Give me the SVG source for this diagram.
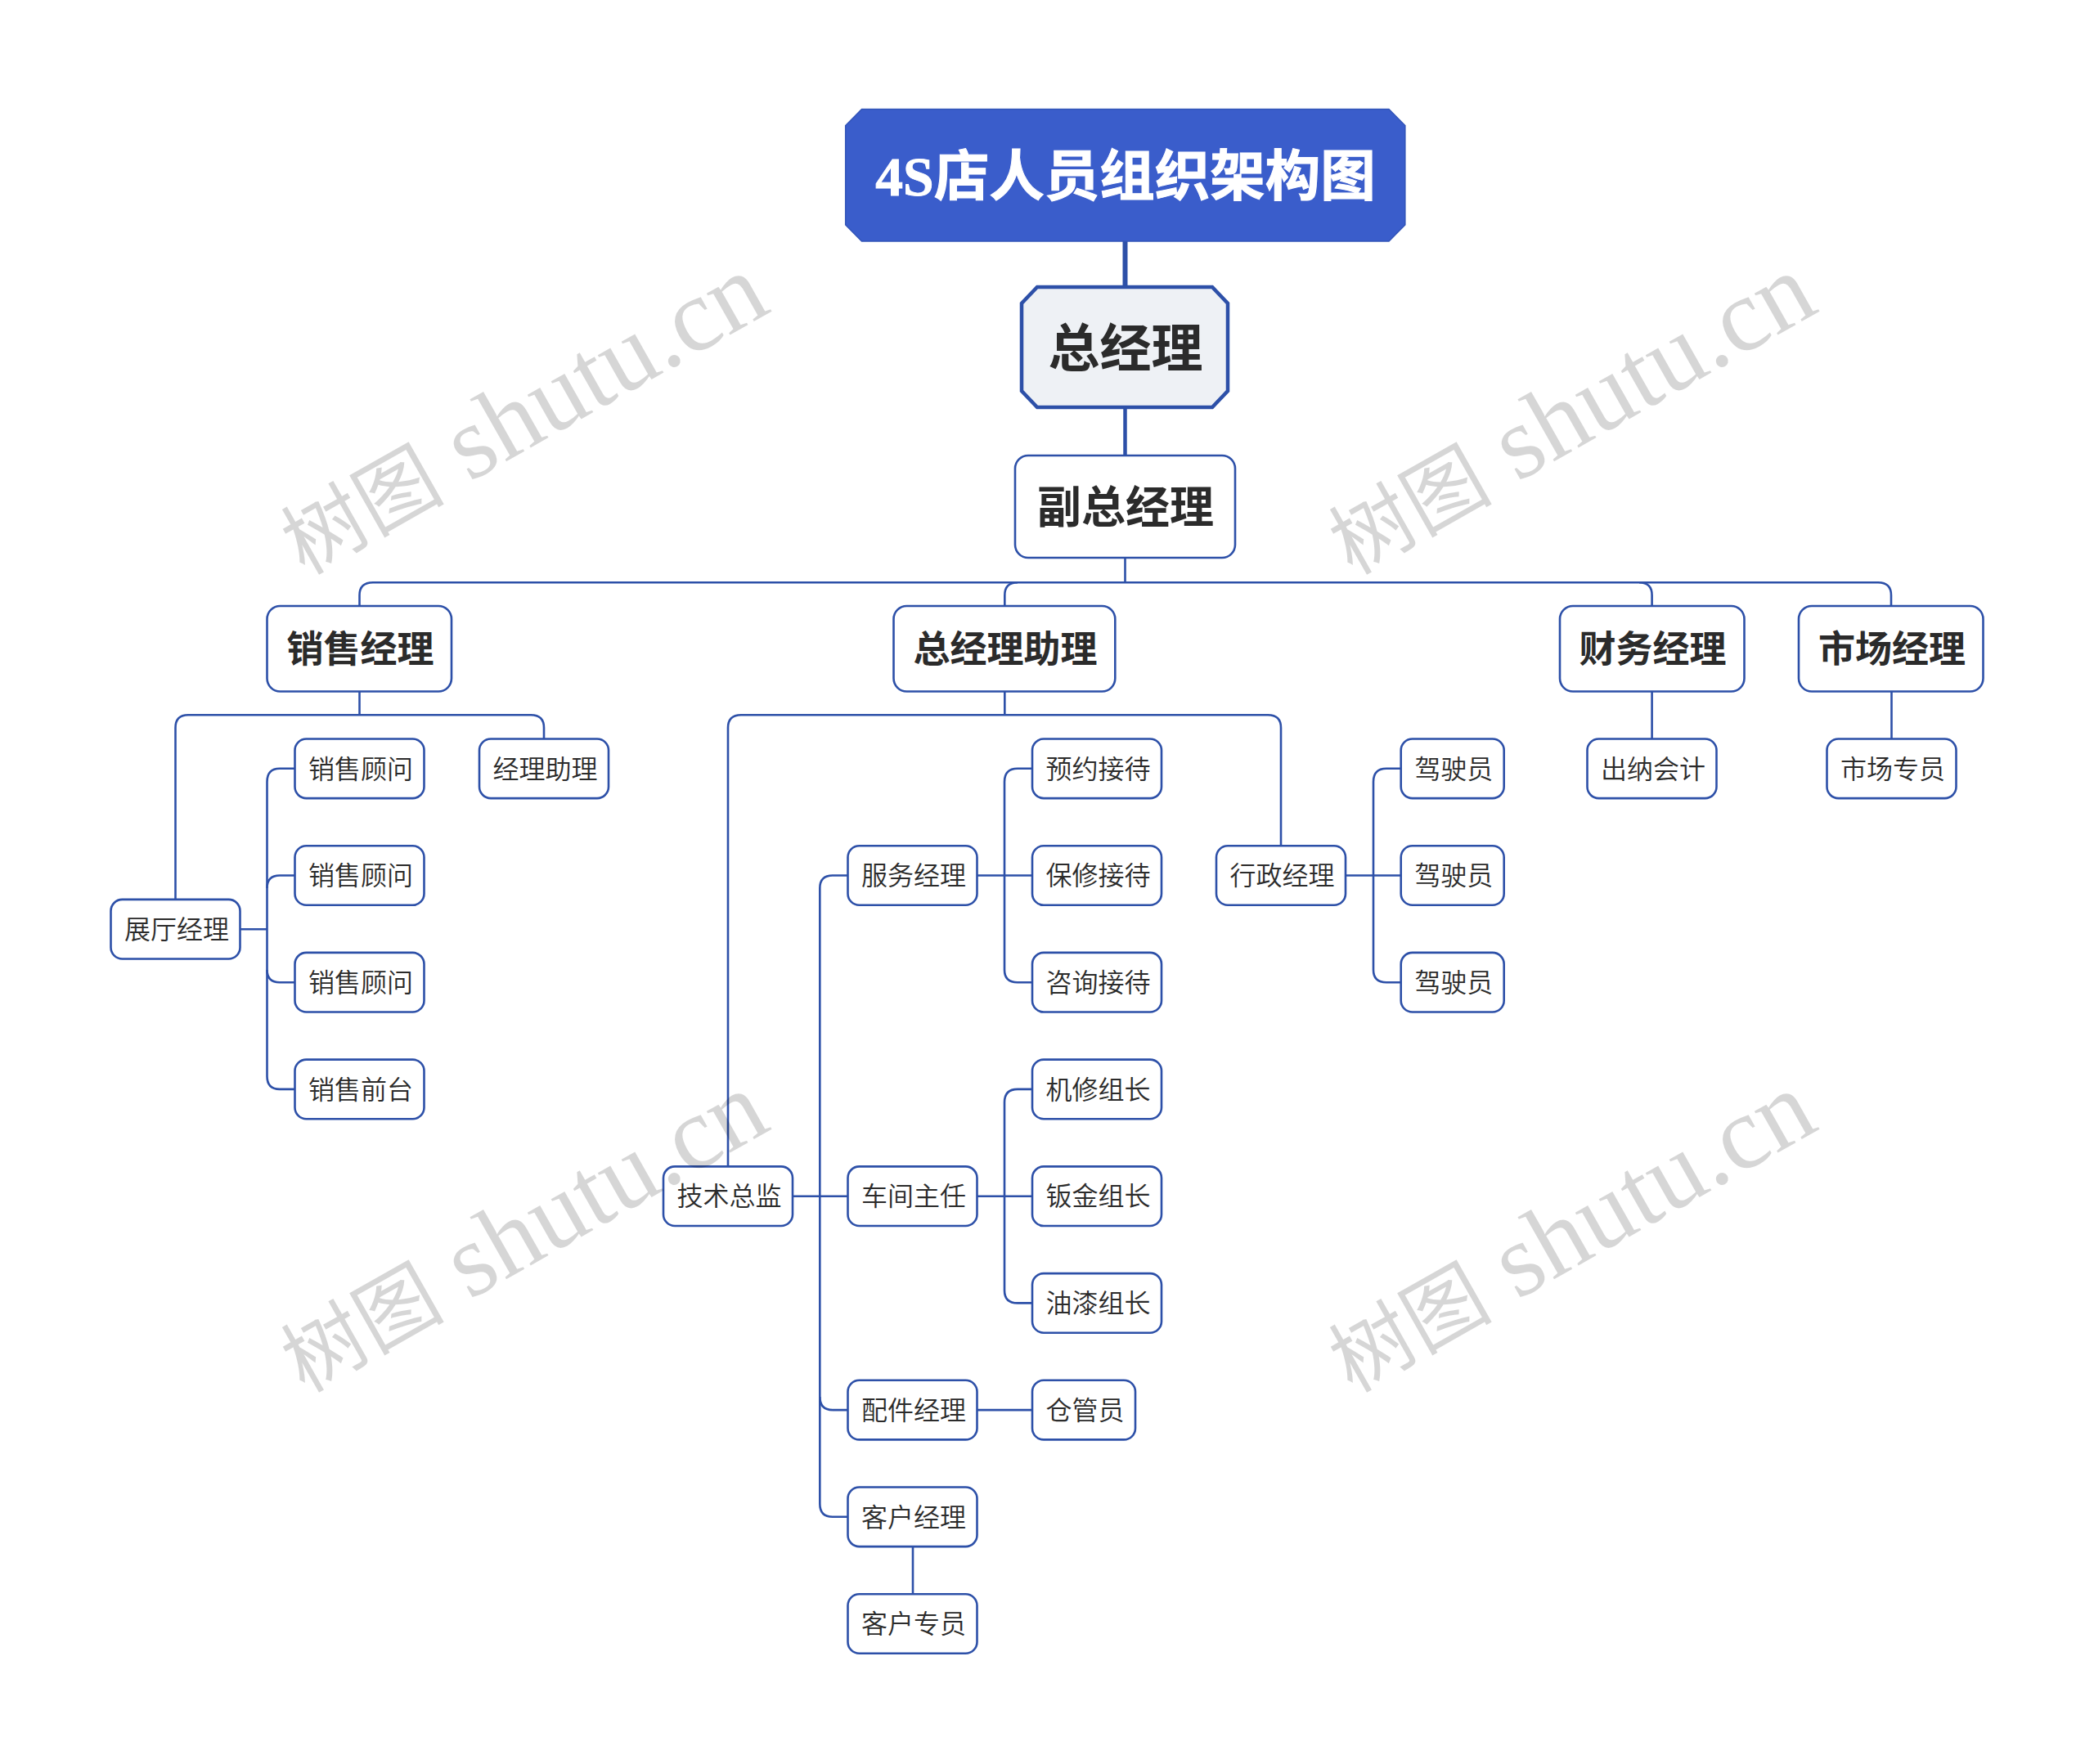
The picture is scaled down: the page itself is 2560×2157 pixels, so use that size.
<svg xmlns="http://www.w3.org/2000/svg" width="2560" height="2157" viewBox="0 0 2560 2157">
<style>
text{text-anchor:middle;font-family:"Noto Sans CJK SC","Noto Sans",sans-serif;fill:#2b2b2b}
.n rect{fill:#fff;stroke:#2d50a8;stroke-width:2.6}
.t{font-size:32px;font-weight:350;transform:translateX(1.5px)}
.b{font-size:45px;font-weight:700;transform:translateX(1px)}
.c path{fill:none;stroke:#2d50a8;stroke-width:2.6}
.wm{font-family:"Liberation Serif","Noto Sans CJK SC",serif;font-size:127px;fill:#000;fill-opacity:.16;font-weight:400;text-anchor:start}
.wm tspan{font-size:100px}
</style>
<rect width="2560" height="2157" fill="#fff"/>
<g id="connectors" class="c">
<path style="stroke-width:6" d="M1375.5 295V350"/>
<path style="stroke-width:4.5" d="M1375.5 498V557"/>
<path d="M1375.5 682V712.3"/>
<path d="M439.5 741V728Q439.5 712.3 456 712.3H2296Q2312 712.3 2312 728V741"/>
<path d="M1228.3 741V728Q1228.3 712.3 1244 712.3"/>
<path d="M2004 712.3Q2019.6 712.3 2019.6 728V741"/>
<path d="M439.5 846V874.3"/>
<path d="M214.5 1100V890Q214.5 874.3 230 874.3H649Q665 874.3 665 890V903.5"/>
<path d="M1228.3 845V874.3"/>
<path d="M890 1426.4V890Q890 874.3 906 874.3H1550Q1566 874.3 1566 890V1034"/>
<path d="M2019.6 846V903.5"/>
<path d="M2312.5 846V903.5"/>
<path d="M293.6 1136.2H326.5"/>
<path d="M360.5 939.8H342Q326.5 939.8 326.5 956V1316Q326.5 1331.9 342 1331.9H360.5"/>
<path d="M360.5 1070.5H342Q326.5 1070.5 326.5 1086"/>
<path d="M360.5 1201.2H342Q326.5 1201.2 326.5 1186"/>
<path d="M969 1462.7H1036.5"/>
<path d="M1036.5 1070.5H1018Q1002.3 1070.5 1002.3 1086V1839Q1002.3 1854.8 1018 1854.8H1036.5"/>
<path d="M1036.5 1724.1H1018Q1002.3 1724.1 1002.3 1708"/>
<path d="M1194.5 1070.5H1262"/>
<path d="M1262 939.8H1244Q1228 939.8 1228 956V1186Q1228 1201.2 1244 1201.2H1262"/>
<path d="M1194.5 1462.7H1262"/>
<path d="M1262 1331.9H1244Q1228 1331.9 1228 1348V1578Q1228 1593.4 1244 1593.4H1262"/>
<path d="M1194.5 1724.1H1262"/>
<path d="M1116 1891V1949"/>
<path d="M1645 1070.5H1712.7"/>
<path d="M1712.7 939.8H1695Q1679 939.8 1679 956V1186Q1679 1201.2 1695 1201.2H1712.7"/>
</g>
<g id="node-title"><path d="M1053.5 133.5H1698L1717.8 153.500V275L1698 295H1053.5L1033.7 275V153.5Z" fill="#3a5dcb" stroke="#3254b8" stroke-width="1.500"/><text x="1376" y="239" style="font-family:'Liberation Serif','Noto Sans CJK SC',serif;font-size:67.500px;font-weight:700;fill:#fff;stroke:#fff;stroke-width:1">4S店人员组织架构图</text></g>
<g id="node-gm"><path d="M1268 351H1482L1501 371V478L1482 498H1268L1249 478V371Z" fill="#eef1f5" stroke="#2d50a8" stroke-width="4.500"/><text x="1376" y="448" style="font-size:63px;font-weight:700">总经理</text></g>
<g id="node-vgm" class="n"><rect x="1241" y="557" width="269" height="125" rx="16"/><text x="1376" y="640" style="font-size:54px;font-weight:700">副总经理</text></g>
<g id="node-sales" class="n"><rect x="326.500" y="741" width="225.500" height="104.500" rx="16"/><text class="b" x="439.500" y="810">销售经理</text></g>
<g id="node-assistant" class="n"><rect x="1092.500" y="741" width="270.800" height="104.500" rx="16"/><text class="b" x="1228" y="810">总经理助理</text></g>
<g id="node-finance" class="n"><rect x="1907" y="741" width="225.500" height="104.500" rx="16"/><text class="b" x="2019.600" y="810">财务经理</text></g>
<g id="node-market" class="n"><rect x="2199" y="741" width="225.500" height="104.500" rx="16"/><text class="b" x="2312" y="810">市场经理</text></g>
<g id="node-a1" class="n"><rect x="360.500" y="903.500" width="158" height="72.600" rx="14"/><text class="t" x="439.500" y="951.500">销售顾问</text></g>
<g id="node-a2" class="n"><rect x="360.500" y="1034.200" width="158" height="72.600" rx="14"/><text class="t" x="439.500" y="1082.200">销售顾问</text></g>
<g id="node-a3" class="n"><rect x="360.500" y="1164.900" width="158" height="72.600" rx="14"/><text class="t" x="439.500" y="1212.900">销售顾问</text></g>
<g id="node-a4" class="n"><rect x="360.500" y="1295.600" width="158" height="72.600" rx="14"/><text class="t" x="439.500" y="1343.600">销售前台</text></g>
<g id="node-a5" class="n"><rect x="586" y="903.500" width="158" height="72.600" rx="14"/><text class="t" x="665" y="951.500">经理助理</text></g>
<g id="node-a6" class="n"><rect x="135.500" y="1099.900" width="158" height="72.600" rx="14"/><text class="t" x="214.500" y="1147.900">展厅经理</text></g>
<g id="node-b1" class="n"><rect x="811" y="1426.400" width="158" height="72.600" rx="14"/><text class="t" x="890" y="1474.400">技术总监</text></g>
<g id="node-b2" class="n"><rect x="1036.500" y="1034.200" width="158" height="72.600" rx="14"/><text class="t" x="1115.500" y="1082.200">服务经理</text></g>
<g id="node-b3" class="n"><rect x="1036.500" y="1426.400" width="158" height="72.600" rx="14"/><text class="t" x="1115.500" y="1474.400">车间主任</text></g>
<g id="node-b4" class="n"><rect x="1036.500" y="1687.800" width="158" height="72.600" rx="14"/><text class="t" x="1115.500" y="1735.800">配件经理</text></g>
<g id="node-b5" class="n"><rect x="1036.500" y="1818.500" width="158" height="72.600" rx="14"/><text class="t" x="1115.500" y="1866.500">客户经理</text></g>
<g id="node-b6" class="n"><rect x="1036.500" y="1949.200" width="158" height="72.600" rx="14"/><text class="t" x="1115.500" y="1997.200">客户专员</text></g>
<g id="node-c1" class="n"><rect x="1262" y="903.500" width="158" height="72.600" rx="14"/><text class="t" x="1341" y="951.500">预约接待</text></g>
<g id="node-c2" class="n"><rect x="1262" y="1034.200" width="158" height="72.600" rx="14"/><text class="t" x="1341" y="1082.200">保修接待</text></g>
<g id="node-c3" class="n"><rect x="1262" y="1164.900" width="158" height="72.600" rx="14"/><text class="t" x="1341" y="1212.900">咨询接待</text></g>
<g id="node-c4" class="n"><rect x="1262" y="1295.600" width="158" height="72.600" rx="14"/><text class="t" x="1341" y="1343.600">机修组长</text></g>
<g id="node-c5" class="n"><rect x="1262" y="1426.400" width="158" height="72.600" rx="14"/><text class="t" x="1341" y="1474.400">钣金组长</text></g>
<g id="node-c6" class="n"><rect x="1262" y="1557.100" width="158" height="72.600" rx="14"/><text class="t" x="1341" y="1605.100">油漆组长</text></g>
<g id="node-c7" class="n"><rect x="1262" y="1687.800" width="126" height="72.600" rx="14"/><text class="t" x="1325" y="1735.800">仓管员</text></g>
<g id="node-d1" class="n"><rect x="1487" y="1034.200" width="158" height="72.600" rx="14"/><text class="t" x="1566" y="1082.200">行政经理</text></g>
<g id="node-d2" class="n"><rect x="1712.700" y="903.500" width="126" height="72.600" rx="14"/><text class="t" x="1775.700" y="951.500">驾驶员</text></g>
<g id="node-d3" class="n"><rect x="1712.700" y="1034.200" width="126" height="72.600" rx="14"/><text class="t" x="1775.700" y="1082.200">驾驶员</text></g>
<g id="node-d4" class="n"><rect x="1712.700" y="1164.900" width="126" height="72.600" rx="14"/><text class="t" x="1775.700" y="1212.900">驾驶员</text></g>
<g id="node-e1" class="n"><rect x="1940.500" y="903.500" width="158" height="72.600" rx="14"/><text class="t" x="2019.500" y="951.500">出纳会计</text></g>
<g id="node-e2" class="n"><rect x="2233.500" y="903.500" width="158" height="72.600" rx="14"/><text class="t" x="2312.500" y="951.500">市场专员</text></g>
<g id="watermarks">
<text class="wm" transform="translate(372 704) rotate(-29.5)"><tspan>树图</tspan> shutu.cn</text>
<text class="wm" transform="translate(1653 704) rotate(-29.5)"><tspan>树图</tspan> shutu.cn</text>
<text class="wm" transform="translate(372 1704) rotate(-29.5)"><tspan>树图</tspan> shutu.cn</text>
<text class="wm" transform="translate(1653 1704) rotate(-29.5)"><tspan>树图</tspan> shutu.cn</text>
</g>
</svg>
